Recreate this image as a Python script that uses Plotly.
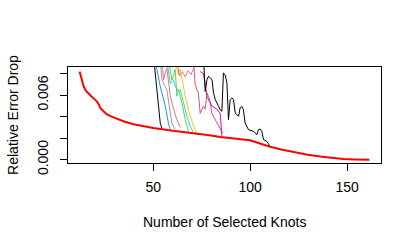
import plotly.graph_objects as go

# Red main curve
red_x = [12, 13, 14.1, 15.3, 16.6, 18, 19.2, 20.3, 21, 22, 22.7, 24.3, 26.1, 28.5, 31.3, 35, 39.8, 45, 50, 60, 70.8,
         78, 84.5, 92, 100, 105, 110.3, 116, 122.3, 129, 136, 142, 148, 154, 161.5]
red_y = [0.0082, 0.0074, 0.0068, 0.0064, 0.0062, 0.0059, 0.0057, 0.0055, 0.0054, 0.0051, 0.0048, 0.0045, 0.0042,
         0.0040, 0.0038, 0.00355, 0.0033, 0.0031, 0.00295, 0.0027, 0.0025, 0.0023, 0.0021, 0.00195, 0.0018, 0.0015,
         0.0012, 0.00095, 0.0007, 0.00048, 0.0003, 0.00015, 0.00006, 0.00002, 0.0]

black1_x = [50.2, 51.9, 53.6, 54.5]
black1_y = [0.0095, 0.0065, 0.0034, 0.0029]

blue_x = [51, 53.6, 56.2, 57.9, 58.8]
blue_y = [0.0092, 0.0068, 0.0050, 0.0033, 0.0028]

grey_x = [53.6, 54.5, 57, 57.9, 59.6, 61.3]
grey_y = [0.0092, 0.0074, 0.0065, 0.0053, 0.0034, 0.0028]

pink1_x = [54.5, 55.3, 56.2, 57, 57.9, 58.8, 60.5, 62.2, 63.9]
pink1_y = [0.0092, 0.0074, 0.0081, 0.0085, 0.0072, 0.0059, 0.0047, 0.0037, 0.0030]

cyan_x = [57, 58.8, 60.5, 61.3, 63, 63.9, 65.6, 67.4, 69.1, 70.8]
cyan_y = [0.0092, 0.0071, 0.0074, 0.0068, 0.0064, 0.0065, 0.0053, 0.0040, 0.0031, 0.0025]

green_x = [57.9, 59.6, 61.3, 62.2, 63, 63.9, 64.8, 66.5, 68.2]
green_y = [0.0092, 0.0074, 0.0084, 0.0059, 0.0065, 0.0059, 0.0053, 0.0037, 0.0026]

gold_x = [61.3, 63, 63.9, 64.8, 66.5, 69.1, 72.5]
gold_y = [0.0092, 0.0079, 0.0084, 0.0074, 0.0059, 0.0040, 0.0023]

pink2_x = [62.2, 63.5, 65, 66.5, 68, 69.5, 71, 72.5]
pink2_y = [0.0092, 0.0078, 0.0082, 0.0077, 0.0083, 0.0079, 0.0086, 0.0092]

salmon_x = [70.8, 71.6, 72.5, 73.3, 74.2, 75.9, 76.8, 77.7, 78.5, 79.4, 80.2, 81.9, 83.6, 85.4, 86.2]
salmon_y = [0.0092, 0.0070, 0.0065, 0.0062, 0.0043, 0.0050, 0.0047, 0.0062, 0.0059, 0.0053, 0.0043, 0.0037, 0.0031, 0.0026, 0.0025]

magenta_x = [74.2, 75.9, 77.7, 80.2, 82.8, 84.5, 85.4]
magenta_y = [0.0082, 0.0080, 0.0059, 0.0050, 0.0047, 0.0043, 0.0022]

black2_x = [75.9, 76.8, 77.7, 78.5, 79.4, 80.3, 81.1, 82, 83.7, 84.5, 85.4, 86.2, 87.1, 88, 88.8, 89.7,
            90.6, 91.4, 92.3, 94, 94.8, 95.7, 96.5, 97.4, 99.1, 101.7, 103.5, 104.3, 105.2, 106, 106.9, 108.6, 110.3]
black2_y = [0.0095, 0.00635, 0.00744, 0.00775, 0.0076, 0.00744, 0.0062, 0.00558, 0.00496, 0.00465, 0.0045,
            0.00806, 0.0079, 0.00713, 0.00372, 0.00558, 0.00574, 0.00558, 0.00434, 0.00403, 0.00481, 0.00496,
            0.00465, 0.00341, 0.00279, 0.00263, 0.00233, 0.00279, 0.00285, 0.00263, 0.00186, 0.0017, 0.00124]

y_tickvals = [0, 0.002, 0.004, 0.006, 0.008]
y_ticktext = ["0.000", "", "", "0.006", ""]
x_tickvals = [50, 100, 150]

series = [
    (black1_x, black1_y, "black"),
    (blue_x, blue_y, "#1e96f0"),
    (grey_x, grey_y, "#9a9a9a"),
    (pink1_x, pink1_y, "#e8727e"),
    (cyan_x, cyan_y, "#28d2d8"),
    (green_x, green_y, "#61d04f"),
    (gold_x, gold_y, "#f5c710"),
    (pink2_x, pink2_y, "#e87890"),
    (salmon_x, salmon_y, "#df536b"),
    (magenta_x, magenta_y, "#cd0bbc"),
    (black2_x, black2_y, "black"),
]

fig = go.Figure()
for xs, ys, c in series:
    fig.add_trace(go.Scatter(x=xs, y=ys, mode="lines", line=dict(color=c, width=1), showlegend=False))
fig.add_trace(go.Scatter(x=red_x, y=red_y, mode="lines", line=dict(color="#ff0000", width=2), showlegend=False))

font = dict(family="Liberation Sans, Arial, sans-serif", size=14, color="black")
fig.update_layout(
    width=415, height=249,
    margin=dict(l=68, r=34, t=67, b=86, autoexpand=False),
    paper_bgcolor="white", plot_bgcolor="white",
    font=font,
    hovermode=False,
    xaxis=dict(range=[6, 167.5], showgrid=False, zeroline=False, showline=True, mirror=True, automargin=False,
               linecolor="black", linewidth=1, ticks="outside", ticklen=7, tickcolor="black",
               tickvals=x_tickvals, ticklabelstandoff=4),
    yaxis=dict(range=[-0.00031, 0.00862], showgrid=False, zeroline=False, showline=True, mirror=True, automargin=False,
               linecolor="black", linewidth=1, ticks="outside", ticklen=7, tickcolor="black",
               tickvals=y_tickvals, ticktext=y_ticktext, tickangle=-90, ticklabelstandoff=6),
    annotations=[
        dict(text="Number of Selected Knots", xref="paper", yref="paper", x=0.5, y=-0.615,
             xanchor="center", yanchor="middle", showarrow=False, font=font),
        dict(text="Relative Error Drop", xref="paper", yref="paper", x=-0.176, y=0.5,
             xanchor="center", yanchor="middle", textangle=-90, showarrow=False, font=font),
    ],
)
fig.write_html("out.html", config={"displayModeBar": False},
               post_script="document.body.style.margin='0';")
